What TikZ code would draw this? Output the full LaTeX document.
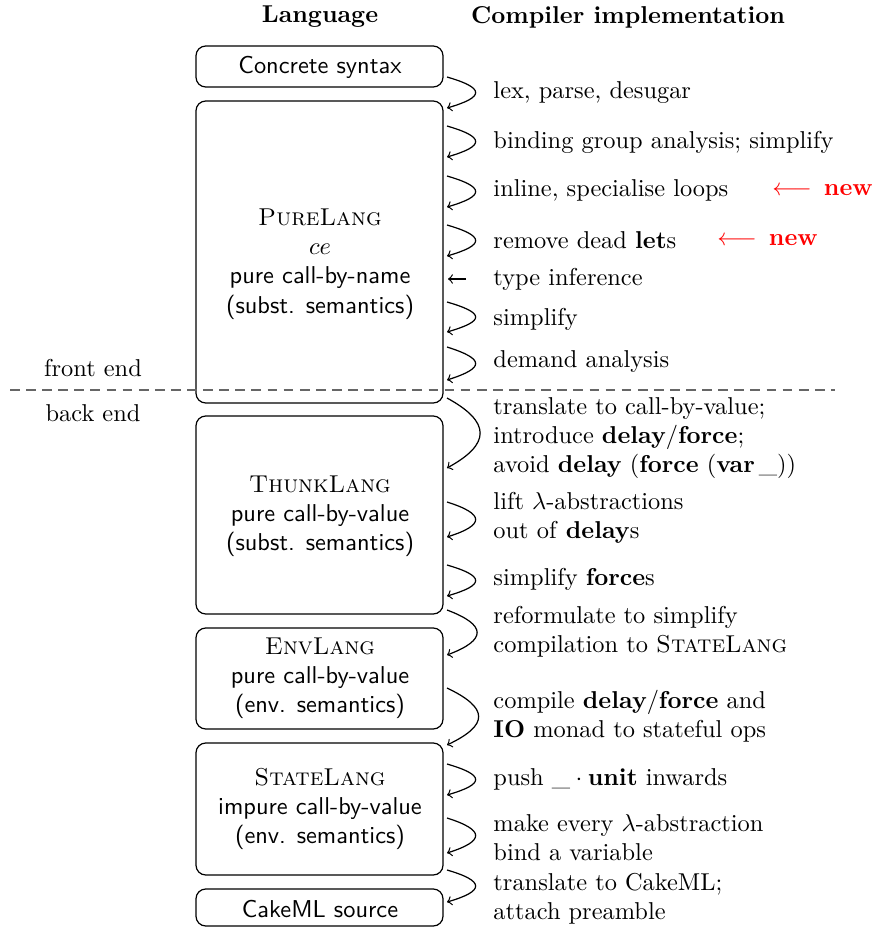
\documentclass[tikz,border=0pt]{standalone}
\usetikzlibrary{fit}
\begin{document}
\begin{tikzpicture}[x=0.41pt,y=-0.41pt,
  langbox/.style={draw, rounded corners=4pt, inner sep=0pt, line width=0.5pt},
  lbl/.style={align=center, inner sep=0pt},
  passlbl/.style={anchor=west, align=left, inner sep=0pt},
  passarr/.style={->, line width=0.5pt},
  newlbl/.style={anchor=west, inner sep=0pt, text=red},
]
\useasboundingbox (0,0) rectangle (877,929);
% headers
\node[font=\bfseries] (hl) at (320,17) {Language};
\node[font=\bfseries] (hc) at (628,17) {Compiler implementation};
% boxes
\coordinate (c1a) at (196,46);  \coordinate (c1b) at (443,87);
\coordinate (c2a) at (196,101); \coordinate (c2b) at (443,403);
\coordinate (c3a) at (196,416); \coordinate (c3b) at (443,614);
\coordinate (c4a) at (196,628); \coordinate (c4b) at (443,729);
\coordinate (c5a) at (196,743); \coordinate (c5b) at (443,875);
\coordinate (c6a) at (196,889); \coordinate (c6b) at (443,926);
\node[langbox, fit=(c1a)(c1b)] (concrete) {};
\node[langbox, fit=(c2a)(c2b)] (pure) {};
\node[langbox, fit=(c3a)(c3b)] (thunk) {};
\node[langbox, fit=(c4a)(c4b)] (env) {};
\node[langbox, fit=(c5a)(c5b)] (state) {};
\node[langbox, fit=(c6a)(c6b)] (cake) {};
\node[lbl, font=\sffamily] (concretet) at (320,67) {Concrete syntax};
\node[lbl] (puret) at (320,264) {\textsc{PureLang}\\ $ce$\\ \sffamily pure call-by-name\\ \sffamily (subst. semantics)};
\node[lbl] (thunkt) at (320,516) {\textsc{ThunkLang}\\ \sffamily pure call-by-value\\ \sffamily (subst. semantics)};
\node[lbl] (envt) at (320,678) {\textsc{EnvLang}\\ \sffamily pure call-by-value\\ \sffamily (env. semantics)};
\node[lbl] (statet) at (320,809) {\textsc{StateLang}\\ \sffamily impure call-by-value\\ \sffamily (env. semantics)};
\node[lbl, font=\sffamily] (caket) at (320,909) {CakeML source};
% front/back end
\coordinate (dl) at (10,390); \coordinate (dr) at (835,390);
\draw[black!60, dash pattern=on 4pt off 2.6pt, line width=0.5pt] (dl) -- (dr);
\node (front) at (93,368) {front end};
\node (back) at (93,413) {back end};
% pass arrows
\foreach \i/\s/\e/\b/\c in {1/77/108/38/11, 2/126/157/38/11, 3/176/207/38/11, 4/225/256/38/11,
  6/302/332/38/11, 7/347/380/38/12, 8/398/468/44/24, 9/502/537/38/12, 10/565/596/38/11,
  11/610/655/40/15, 12/688/745/42/20, 13/764/795/38/11, 14/818/853/38/12, 15/870/902/38/11}{
  \coordinate (ps\i) at (447,\s);
  \coordinate (pe\i) at (447,\e);
  \draw[passarr] (ps\i) .. controls +(\b,\c) and +(\b,-\c) .. (pe\i);
}
\coordinate (ti1) at (466,279); \coordinate (ti2) at (448,279);
\draw[passarr] (ti1) -- (ti2);
% pass labels
\node[passlbl] (l1) at (493,93) {lex, parse, desugar};
\node[passlbl] (l2) at (493,142) {binding group analysis; simplify};
\node[passlbl] (l3) at (493,190) {inline, specialise loops};
\node[newlbl] (n3) at (772,190) {$\longleftarrow$\enspace\textbf{new}};
\node[passlbl] (l4) at (493,240) {remove dead \textbf{let}s};
\node[newlbl] (n4) at (717,240) {$\longleftarrow$\enspace\textbf{new}};
\node[passlbl] (l5) at (493,279) {type inference};
\node[passlbl] (l6) at (493,319) {simplify};
\node[passlbl] (l7) at (493,362) {demand analysis};
\node[passlbl] (l8) at (493,438) {translate to call-by-value;\\ introduce \textbf{delay}$/$\textbf{force};\\ avoid \textbf{delay} (\textbf{force} (\textbf{var}\,\_))};
\node[passlbl] (l9) at (493,518) {lift $\lambda$-abstractions\\ out of \textbf{delay}s};
\node[passlbl] (l10) at (493,579) {simplify \textbf{force}s};
\node[passlbl] (l11) at (493,632) {reformulate to simplify\\ compilation to \textsc{StateLang}};
\node[passlbl] (l12) at (493,716) {compile \textbf{delay}$/$\textbf{force} and\\ \textbf{IO} monad to stateful ops};
\node[passlbl] (l13) at (493,779) {push \_${}\cdot{}$\textbf{unit} inwards};
\node[passlbl] (l14) at (493,838) {make every $\lambda$-abstraction\\ bind a variable};
\node[passlbl] (l15) at (493,899) {translate to CakeML;\\ attach preamble};
\end{tikzpicture}
\end{document}
